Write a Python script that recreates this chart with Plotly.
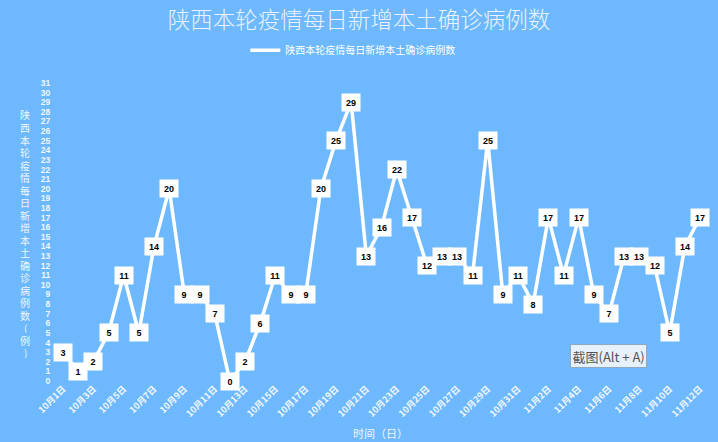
import plotly.graph_objects as go

# Daily new local confirmed cases in Shaanxi, Oct 1 - Nov 12
dates = [
    "10月1日", "10月2日", "10月3日", "10月4日", "10月5日", "10月6日", "10月7日",
    "10月8日", "10月9日", "10月10日", "10月11日", "10月12日", "10月13日", "10月14日",
    "10月15日", "10月16日", "10月17日", "10月18日", "10月19日", "10月20日", "10月21日",
    "10月22日", "10月23日", "10月24日", "10月25日", "10月26日", "10月27日", "10月28日",
    "10月29日", "10月30日", "10月31日", "11月1日", "11月2日", "11月3日", "11月4日",
    "11月5日", "11月6日", "11月7日", "11月8日", "11月9日", "11月10日", "11月11日",
    "11月12日",
]
cases = [
    3, 1, 2, 5, 11, 5, 14, 20, 9, 9, 7, 0, 2, 6, 11, 9, 9, 20, 25, 29, 13,
    16, 22, 17, 12, 13, 13, 11, 25, 9, 11, 8, 17, 11, 17, 9, 7, 13, 13, 12,
    5, 14, 17,
]
series_name = "陕西本轮疫情每日新增本土确诊病例数"
title_text = "陕西本轮疫情每日新增本土确诊病例数"
y_title_chars = list("陕西本轮疫情每日新增本土确诊病例数") + ["(", "例", ")"]
x_title = "时间（日）"
y_ticks = list(range(0, 32))

BG = "#6EB9FD"
CJK = "Noto Sans CJK SC"
M_L, M_R, M_T, M_B = 63, 18, 83, 61
PLOT_W = 718 - M_L - M_R
PLOT_H = 442 - M_T - M_B


def px_to_paper(xp, yp):
    """Convert page pixel coordinates to paper coordinates."""
    return (xp - M_L) / PLOT_W, (442 - M_B - yp) / PLOT_H


fig = go.Figure()
fig.add_trace(go.Scatter(
    x=dates, y=cases, mode="lines", name=series_name,
    line=dict(color="white", width=3.5),
))

# white value boxes at every point
for d, v in zip(dates, cases):
    fig.add_annotation(
        x=d, y=v, text=str(v), showarrow=False,
        bgcolor="white", borderpad=3, width=12, height=11,
        font=dict(family="Arial", size=9, color="black", weight="bold"),
    )

# vertical axis title, one character per row
top_px, step_px = 115, 12.5
for i, ch in enumerate(y_title_chars):
    px_x, px_y = px_to_paper(25, top_px + i * step_px)
    fig.add_annotation(
        xref="paper", yref="paper", x=px_x, y=px_y,
        xanchor="center", yanchor="middle",
        text=ch, showarrow=False, height=11,
        font=dict(family=CJK, size=10, color="#EEF5FF"),
    )

# x axis title
tx, ty = px_to_paper(380, 433)
fig.add_annotation(
    xref="paper", yref="paper", x=tx, y=ty, xanchor="center", yanchor="middle",
    text=x_title, showarrow=False,
    font=dict(family=CJK, size=11, color="#EEF5FF"),
)

# screenshot hint box
bx, by = px_to_paper(608, 356)
fig.add_annotation(
    xref="paper", yref="paper", x=bx, y=by, xanchor="center", yanchor="middle",
    text="截图(Alt + A)", showarrow=False,
    bgcolor="#E6F1FD", bordercolor="#8FA9C4", borderwidth=1, borderpad=1.5,
    font=dict(family=CJK, size=13, color="#555555"),
)

fig.update_layout(
    width=718, height=442,
    paper_bgcolor=BG, plot_bgcolor=BG,
    margin=dict(l=M_L, r=M_R, t=M_T, b=M_B, autoexpand=False),
    title=dict(text=title_text, x=0.5, xanchor="center", y=0.955, yanchor="middle",
               font=dict(family=CJK, size=22.5, color="#EAF2FF", weight=300)),
    showlegend=True,
    legend=dict(orientation="h", x=0.455, xanchor="center", y=1.11, yanchor="middle",
                bgcolor="rgba(0,0,0,0)",
                font=dict(family=CJK, size=10, color="white")),
    xaxis=dict(
        type="category", range=[0, len(dates) - 1], automargin=False,
        tickmode="array", tickvals=dates[::2], ticktext=dates[::2],
        tickangle=-45, showgrid=False, zeroline=False, showline=False,
        ticks="", ticklen=0,
        tickfont=dict(family=CJK, size=9, color="#F0F6FF", weight="bold"),
    ),
    yaxis=dict(
        range=[0, 31], tickmode="array", tickvals=y_ticks, automargin=False,
        showgrid=False, zeroline=False, showline=False,
        ticks="outside", ticklen=10, tickcolor=BG,
        tickfont=dict(family="Arial", size=8.5, color="#F0F6FF", weight="bold"),
    ),
)

fig.write_html("out.html")
